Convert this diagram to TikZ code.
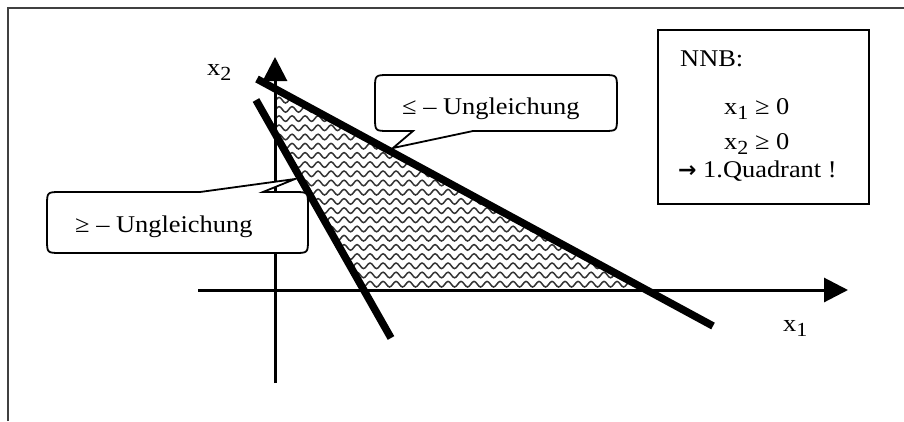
\documentclass[tikz,border=0pt]{standalone}
\usepackage{fontspec}
\setmainfont[FakeStretch=1.1]{Liberation Serif}
\newfontfamily\arrowfont{DejaVu Sans}
\usetikzlibrary{arrows.meta,decorations.pathmorphing}
\newcommand{\lsub}[1]{\raisebox{-5pt}{\fontsize{20}{21}\selectfont #1}}
\begin{document}
\begin{tikzpicture}[x=1pt,y=-1pt,
  lbl/.style={inner sep=0pt,anchor=base west,font=\fontsize{24}{26}\selectfont},
  axisline/.style={line width=3pt,-{Triangle[length=24pt,width=24pt]}},
  boundline/.style={line width=7.5pt,line cap=butt},
  cbox/.style={fill=white,draw=black,line width=1.8pt,line join=miter},
  wave/.style={draw=black!80,line width=1.5pt,decorate,decoration={snake,segment length=13pt,amplitude=2.8pt}}]
\useasboundingbox (0,0) rectangle (904,421);
% frame
\draw[black!75,line width=1.6pt] (8,421) -- (8,8) -- (904,8);
% key points
\coordinate (P1) at (275,89);
\coordinate (P2) at (275,133.5);
\coordinate (P3) at (363.7,290);
\coordinate (P4) at (646,290);
% hatched feasible region
\begin{scope}
  \clip (P1) -- (P2) -- (P3) -- (P4) -- cycle;
  \foreach \k in {0,...,22} {
    \draw[wave] (262,{91+9.2*\k}) -- (670,{91+9.2*\k});
  }
\end{scope}
% axes
\coordinate (xs) at (198,290);
\coordinate (xe) at (848,290);
\coordinate (ys) at (275,383);
\coordinate (ye) at (275,57);
\draw[axisline] (xs) -- (xe);
\draw[axisline] (ys) -- (ye);
% constraint lines
\coordinate (L1a) at (257,79);
\coordinate (L1b) at (713,326);
\coordinate (L2a) at (256,100);
\coordinate (L2b) at (391,338);
\draw[boundline] (L1a) -- (L1b);
\draw[boundline] (L2a) -- (L2b);
% axis labels
\node[lbl] (x2) at (207,75) {x\lsub{2}};
\node[lbl] (x1) at (783,331) {x\lsub{1}};
% callout 1 (<=)
\draw[cbox] (413,131) -- (389,131) .. controls (375,131) .. (375,117) -- (375,89)
  .. controls (375,75) .. (389,75) -- (603,75) .. controls (617,75) .. (617,89)
  -- (617,117) .. controls (617,131) .. (603,131) -- (473,131) -- (393,148) -- cycle;
\node[lbl] (c1) at (402,114) {≤ – Ungleichung};
% callout 2 (>=)
\draw[cbox] (200,192) -- (61,192) .. controls (47,192) .. (47,206) -- (47,239)
  .. controls (47,253) .. (61,253) -- (294,253) .. controls (308,253) .. (308,239)
  -- (308,206) .. controls (308,192) .. (294,192) -- (263,192) -- (295,179) -- cycle;
\node[lbl] (c2) at (75,232) {≥ – Ungleichung};
% NNB box
\draw[fill=white,draw=black,line width=2pt] (658,30) rectangle (869,204);
\node[lbl] (nnb) at (680,66) {NNB:};
\node[lbl] (n1) at (724,114) {x\lsub{1} ≥ 0};
\node[lbl] (n2) at (724,149) {x\lsub{2} ≥ 0};
\node[lbl] (n3) at (678,177) {{\arrowfont\bfseries\fontsize{22}{22}\selectfont →} 1.Quadrant !};
\end{tikzpicture}
\end{document}
